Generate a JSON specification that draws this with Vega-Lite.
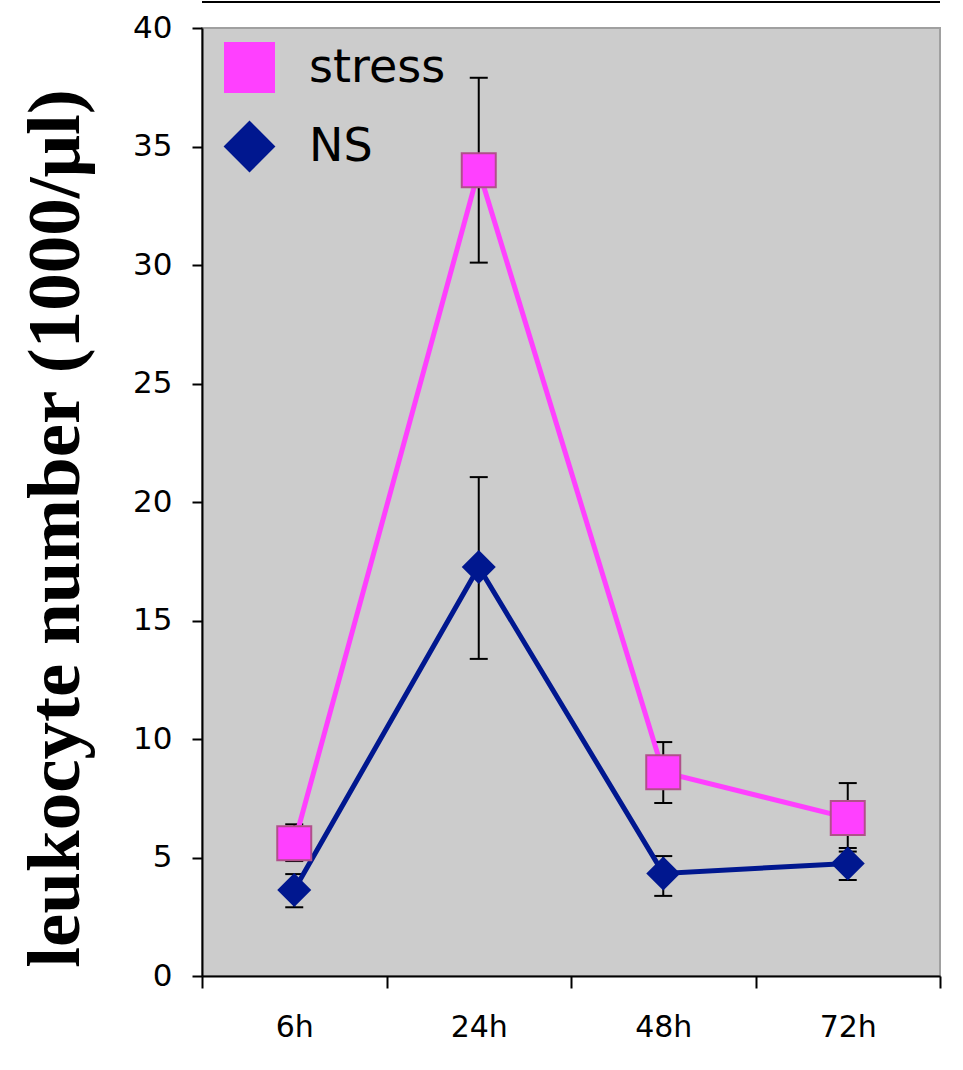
{
  "$schema": "https://vega.github.io/schema/vega-lite/v6.json",
  "width": 738,
  "height": 948,
  "autosize": {"type": "none"},
  "padding": {"left": 202, "top": 28, "right": 23, "bottom": 94},
  "background": "white",
  "config": {
    "view": {"fill": "#cccccc", "stroke": "#a0a0a0", "strokeWidth": 2},
    "font": "DejaVu Sans"
  },
  "datasets": {
    "main": [
      {"time": "6h", "group": "stress", "value": 5.6, "lo": 4.85, "hi": 6.4},
      {"time": "24h", "group": "stress", "value": 34.0, "lo": 30.1, "hi": 37.9},
      {"time": "48h", "group": "stress", "value": 8.6, "lo": 7.3, "hi": 9.87},
      {"time": "72h", "group": "stress", "value": 6.67, "lo": 5.25, "hi": 8.14},
      {"time": "6h", "group": "NS", "value": 3.63, "lo": 2.9, "hi": 4.3},
      {"time": "24h", "group": "NS", "value": 17.26, "lo": 13.38, "hi": 21.05},
      {"time": "48h", "group": "NS", "value": 4.33, "lo": 3.38, "hi": 5.06},
      {"time": "72h", "group": "NS", "value": 4.75, "lo": 4.05, "hi": 5.4}
    ],
    "frame": [{"top": 41.1}]
  },
  "data": {"name": "main"},
  "layer": [
    {
      "mark": {"type": "rule", "color": "black", "strokeWidth": 2},
      "encoding": {
        "x": {
          "field": "time",
          "type": "nominal",
          "sort": ["6h", "24h", "48h", "72h"],
          "scale": {"type": "band", "paddingInner": 0, "paddingOuter": 0, "domain": ["6h", "24h", "48h", "72h"]},
          "axis": {
            "title": null,
            "tickBand": "extent",
            "labelAngle": 0,
            "labelFontSize": 30,
            "labelColor": "black",
            "labelPadding": 24,
            "tickSize": 12,
            "tickColor": "black",
            "tickWidth": 2,
            "domainColor": "black",
            "domainWidth": 2
          }
        },
        "y": {"field": "lo", "type": "quantitative"},
        "y2": {"field": "hi"}
      }
    },
    {
      "data": {"name": "frame"},
      "mark": {"type": "rule", "color": "black", "strokeWidth": 2, "clip": false},
      "encoding": {"y": {"field": "top", "type": "quantitative"}}
    },
    {
      "mark": {"type": "tick", "color": "black", "size": 18, "thickness": 2, "opacity": 1},
      "encoding": {
        "x": {"field": "time", "type": "nominal"},
        "y": {"field": "lo", "type": "quantitative"}
      }
    },
    {
      "mark": {"type": "tick", "color": "black", "size": 18, "thickness": 2, "opacity": 1},
      "encoding": {
        "x": {"field": "time", "type": "nominal"},
        "y": {"field": "hi", "type": "quantitative"}
      }
    },
    {
      "mark": {"type": "line", "strokeWidth": 5},
      "encoding": {
        "x": {"field": "time", "type": "nominal"},
        "y": {"field": "value", "type": "quantitative"},
        "color": {"field": "group", "type": "nominal"}
      }
    },
    {
      "transform": [{"filter": "datum.group === 'stress'"}],
      "mark": {"type": "point", "filled": true, "size": 1156, "opacity": 1, "stroke": "#b0508a", "strokeWidth": 2},
      "encoding": {
        "x": {"field": "time", "type": "nominal"},
        "y": {"field": "value", "type": "quantitative"},
        "color": {"field": "group", "type": "nominal"},
        "shape": {"field": "group", "type": "nominal"}
      }
    },
    {
      "transform": [{"filter": "datum.group === 'NS'"}],
      "mark": {"type": "point", "filled": true, "size": 1156, "opacity": 1},
      "encoding": {
        "x": {"field": "time", "type": "nominal"},
        "y": {"field": "value", "type": "quantitative"},
        "color": {
          "field": "group",
          "type": "nominal",
          "scale": {"domain": ["stress", "NS"], "range": ["#ff40ff", "#00178f"]},
          "legend": {
            "orient": "none",
            "legendX": 22,
            "legendY": 14,
            "title": null,
            "padding": 0,
            "symbolSize": 2400,
            "labelFontSize": 46,
            "labelColor": "black",
            "labelOffset": 34,
            "rowPadding": 22,
            "symbolOpacity": 1,
            "encode": {
              "symbols": {
                "update": {
                  "stroke": {"signal": "datum.value === 'stress' ? '#b0508a' : '#00178f'"},
                  "strokeWidth": {"value": 2}
                }
              }
            }
          }
        },
        "shape": {
          "field": "group",
          "type": "nominal",
          "scale": {"domain": ["stress", "NS"], "range": ["square", "diamond"]}
        }
      }
    }
  ],
  "encoding": {
    "y": {
      "type": "quantitative",
      "scale": {"domain": [0, 40], "nice": false, "zero": true},
      "axis": {
        "title": "leukocyte number (1000/μl)",
        "titleFont": "Liberation Serif",
        "titleFontSize": 75,
        "titleFontWeight": "bold",
        "titleColor": "black",
        "titleAngle": -90,
        "titleAlign": "center",
        "titleBaseline": "alphabetic",
        "titleX": -124,
        "titleY": 500,
        "values": [0, 5, 10, 15, 20, 25, 30, 35, 40],
        "grid": false,
        "tickSize": 10,
        "tickColor": "black",
        "tickWidth": 2,
        "domainColor": "black",
        "domainWidth": 2,
        "labelFontSize": 31,
        "labelColor": "black",
        "labelPadding": 20
      }
    }
  }
}
